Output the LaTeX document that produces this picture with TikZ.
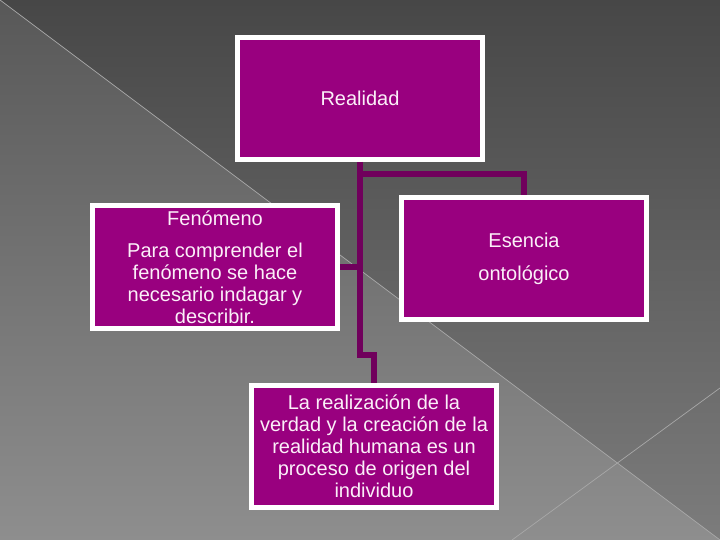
\documentclass[tikz,border=0pt]{standalone}
\usepackage{fontspec}
\setmainfont{Liberation Sans}
\usetikzlibrary{calc}
\definecolor{bgtop}{HTML}{474747}
\definecolor{bgbottom}{HTML}{7C7C7C}
\definecolor{wedgetop}{HTML}{585858}
\definecolor{wedgebottom}{HTML}{8E8E8E}
\definecolor{rulecol}{HTML}{A8A8A8}
\definecolor{boxfill}{HTML}{99007F}
\definecolor{boxtext}{HTML}{FBEFF8}
\definecolor{linkcol}{HTML}{70005C}

\begin{document}
\begin{tikzpicture}
  [
    x=1pt, y=-1pt,
    box/.style =
      {draw=white, line width=5pt, fill=boxfill, text=boxtext, align=center,
       minimum width=245pt, minimum height=122pt, inner sep=0pt,
       font=\fontsize{20}{22}\selectfont},
    link/.style =
      {draw=linkcol, line width=6pt},
    rule/.style =
      {draw=rulecol, line width=0.7pt}
  ]

\useasboundingbox (0,0) rectangle (720,540);
\shade [top color=bgtop, bottom color=bgbottom] (0,0) rectangle (720,540);
\shade [top color=wedgetop, bottom color=wedgebottom] (0,0) -- (720,540) -- (0,540) -- cycle;
\begin{scope}
  \clip (0,0) rectangle (720,540);
  \draw [rule] (0,0) -- (720,540);
  \draw [rule] (720,388) -- (512,540);
\end{scope}

\node[box] (real) at (360,98.5) {Realidad};
\node[box] (fen) at (215,267) {Fenómeno\\[10pt]Para comprender el\\fenómeno se hace\\necesario indagar y\\describir.};
\node[box] (ess) at (524,258.5) {Esencia\\[11pt]ontológico};
\node[box] (proc) at (374,446.5) {La realización de la\\verdad y la creación de la\\realidad humana es un\\proceso de origen del\\individuo};

\draw [link] (real.south) |- ([yshift=28pt]proc.north) -- (proc.north);
\draw [link] ([yshift=-12pt]real.south) -| (ess.north);
\draw [link] (fen.east) -- (fen.east -| real.south);

\end{tikzpicture}
\end{document}
